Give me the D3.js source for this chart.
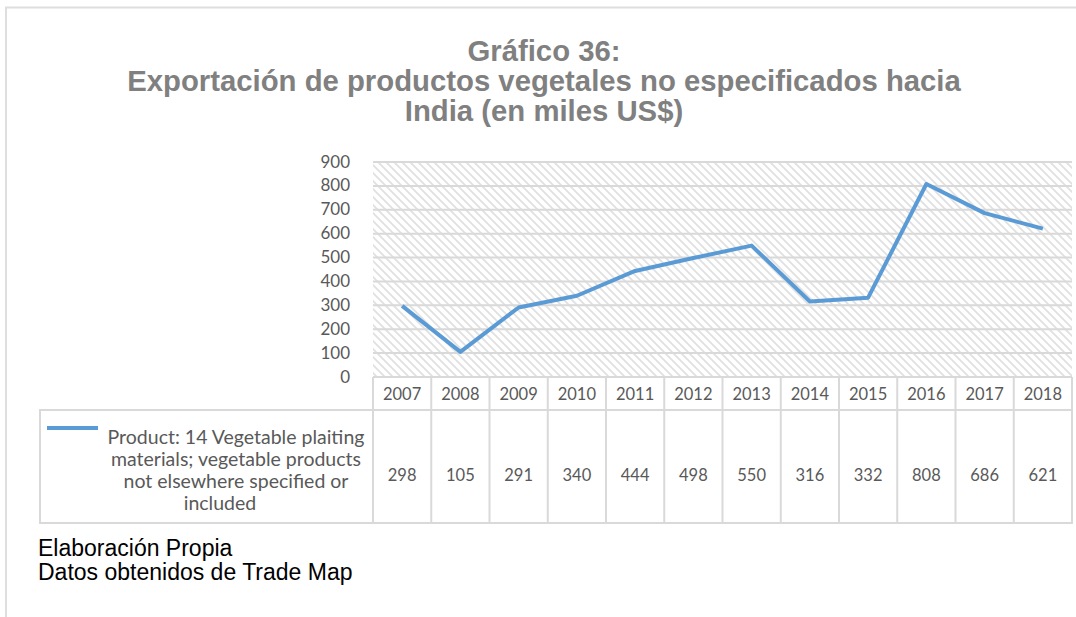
<!DOCTYPE html>
<html>
<head>
<meta charset="utf-8">
<script src="https://cdn.jsdelivr.net/npm/d3@7"></script>
<style>
  body { margin: 0; background: #fff; }
  svg { display: block; }
</style>
</head>
<body>
<div class="container"></div>
<script>
  var years = ["2007", "2008", "2009", "2010", "2011", "2012", "2013", "2014", "2015", "2016", "2017", "2018"];
  var values = [298, 105, 291, 340, 444, 498, 550, 316, 332, 808, 686, 621];
  var yTicks = [0, 100, 200, 300, 400, 500, 600, 700, 800, 900];
  var titleLines = ["Gráfico 36:", "Exportación de productos vegetales no especificados hacia", "India (en miles US$)"];
  var legendLines = ["Product: 14 Vegetable plaiting", "materials; vegetable products", "not elsewhere specified or", "included"];
  var footLines = ["Elaboración Propia", "Datos obtenidos de Trade Map"];

  var width = 1076,
    height = 617,
    plotLeft = 373,
    plotRight = 1072,
    plotTop = 162,
    plotBottom = 377,
    rowTop = 410,
    rowBottom = 523,
    tableLeft = 40;

  var lineColor = "#5b9bd5",
    gridColor = "#d9d9d9",
    textGrey = "#595959",
    calibri = "Lato, 'Open Sans', sans-serif";

  var svg = d3.select(".container").append("svg")
    .attr("width", width)
    .attr("height", height);

  var x = d3.scaleBand()
    .domain(years)
    .range([plotLeft, plotRight]);

  var y = d3.scaleLinear()
    .domain([0, 900])
    .range([plotBottom, plotTop]);

  // outer frame
  svg.append("path")
    .attr("d", "M6,617 V7.5 H1076")
    .attr("fill", "none")
    .attr("stroke", "#dedede")
    .attr("stroke-width", 2);

  // title
  svg.append("g").selectAll("text")
    .data(titleLines)
    .enter().append("text")
    .attr("x", 544)
    .attr("y", function(d, i) { return 61 + i * 30; })
    .attr("text-anchor", "middle")
    .style("font-family", "'Liberation Sans', Arial, sans-serif")
    .style("font-weight", "bold")
    .style("font-size", "29.3px")
    .style("fill", "#808080")
    .text(function(d) { return d; });

  // hatched plot area
  var pattern = svg.append("defs").append("pattern")
    .attr("id", "hatch")
    .attr("patternUnits", "userSpaceOnUse")
    .attr("width", 8)
    .attr("height", 8);
  pattern.append("rect")
    .attr("width", 8)
    .attr("height", 8)
    .attr("fill", "#fff");
  pattern.append("path")
    .attr("d", "M-2,-2 L10,10 M-2,6 L2,10 M6,-2 L10,2")
    .attr("stroke", "#e0e0e0")
    .attr("stroke-width", 1.7);

  svg.append("rect")
    .attr("x", plotLeft)
    .attr("y", plotTop)
    .attr("width", plotRight - plotLeft)
    .attr("height", plotBottom - plotTop)
    .attr("fill", "url(#hatch)");

  // gridlines
  svg.append("g").selectAll("line")
    .data(yTicks)
    .enter().append("line")
    .attr("x1", plotLeft)
    .attr("x2", plotRight)
    .attr("y1", function(d) { return y(d); })
    .attr("y2", function(d) { return y(d); })
    .attr("stroke", gridColor)
    .attr("stroke-width", 2);

  // y axis labels
  var yAxis = svg.append("g")
    .attr("transform", "translate(350,0)")
    .call(d3.axisLeft(y).tickValues(yTicks).tickSize(0).tickPadding(0));
  yAxis.select(".domain").remove();
  yAxis.selectAll("text")
    .attr("dy", "0.3em")
    .style("font-family", calibri)
    .style("font-size", "17px")
    .style("fill", textGrey);

  // data line
  var line = d3.line()
    .x(function(d, i) { return x(years[i]) + x.bandwidth() / 2; })
    .y(function(d) { return y(d); });

  svg.append("path")
    .datum(values)
    .attr("d", line)
    .attr("fill", "none")
    .attr("stroke", lineColor)
    .attr("stroke-width", 4)
    .attr("stroke-linejoin", "round");

  // data table
  var edges = years.map(function(d) { return x(d); }).concat([plotRight]);
  var table = svg.append("g")
    .attr("stroke", gridColor)
    .attr("stroke-width", 2)
    .attr("fill", "none");

  table.append("line")
    .attr("x1", plotLeft).attr("x2", plotRight)
    .attr("y1", plotBottom).attr("y2", plotBottom);
  table.append("rect")
    .attr("x", tableLeft)
    .attr("y", rowTop)
    .attr("width", plotRight - tableLeft)
    .attr("height", rowBottom - rowTop);
  table.selectAll(".sep")
    .data(edges)
    .enter().append("line")
    .attr("class", "sep")
    .attr("x1", function(d) { return d; })
    .attr("x2", function(d) { return d; })
    .attr("y1", plotBottom)
    .attr("y2", rowBottom);

  svg.append("g").selectAll("text")
    .data(years)
    .enter().append("text")
    .attr("x", function(d) { return x(d) + x.bandwidth() / 2; })
    .attr("y", 400)
    .attr("text-anchor", "middle")
    .style("font-family", calibri)
    .style("font-size", "16.5px")
    .style("fill", textGrey)
    .text(function(d) { return d; });

  svg.append("g").selectAll("text")
    .data(values)
    .enter().append("text")
    .attr("x", function(d, i) { return x(years[i]) + x.bandwidth() / 2; })
    .attr("y", 481)
    .attr("text-anchor", "middle")
    .style("font-family", calibri)
    .style("font-size", "16.5px")
    .style("fill", textGrey)
    .text(function(d) { return d; });

  // legend key and label
  svg.append("line")
    .attr("x1", 47)
    .attr("x2", 98)
    .attr("y1", 428)
    .attr("y2", 428)
    .attr("stroke", lineColor)
    .attr("stroke-width", 4);

  svg.append("g").selectAll("text")
    .data(legendLines)
    .enter().append("text")
    .attr("x", function(d, i) { return i === 3 ? 220 : 236; })
    .attr("y", function(d, i) { return 444 + i * 22; })
    .attr("text-anchor", "middle")
    .style("font-family", calibri)
    .style("font-size", "19.5px")
    .style("fill", textGrey)
    .text(function(d) { return d; });

  // footer
  svg.append("g").selectAll("text")
    .data(footLines)
    .enter().append("text")
    .attr("x", 38)
    .attr("y", function(d, i) { return 556 + i * 24; })
    .style("font-family", "'Liberation Sans', Arial, sans-serif")
    .style("font-size", "23px")
    .style("fill", "#000")
    .text(function(d) { return d; });
</script>
</body>
</html>
